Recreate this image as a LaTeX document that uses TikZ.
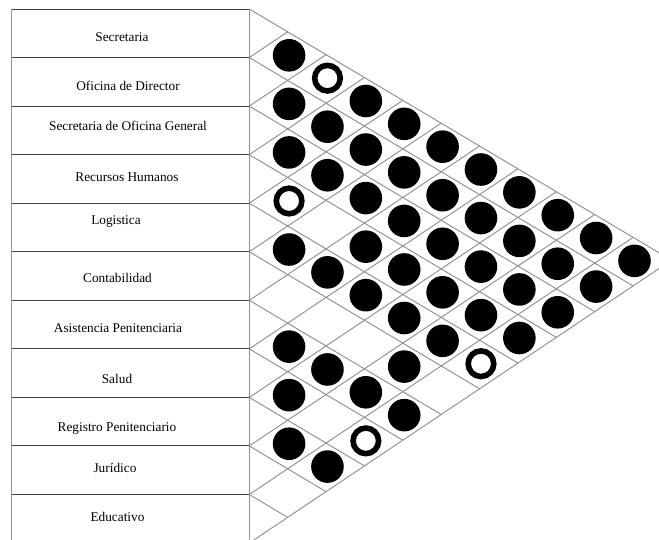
\documentclass[tikz,border=0pt]{standalone}
\usepackage{fontspec}
\setmainfont{Liberation Serif}
\definecolor{gridgray}{HTML}{8C8C8C}
\definecolor{tabline}{HTML}{404040}
\definecolor{tabvert}{HTML}{939393}
\begin{document}
\begin{tikzpicture}[x=1pt,y=-1pt,
  gridline/.style={draw=gridgray, line width=0.9pt},
  rowline/.style={draw=tabline, line width=1pt},
  colline/.style={draw=tabvert, line width=1pt},
  full/.style={circle, fill=black, minimum size=32.6pt, inner sep=0pt},
  ring/.style={circle, draw=black, line width=5.6pt, minimum size=25.6pt, inner sep=0pt},
  lbl/.style={anchor=base, font=\fontsize{13.3}{15}\selectfont, inner sep=0pt}]
\useasboundingbox (0,0) rectangle (659,539);
\clip (0,0) rectangle (659,539);
\def\xO{249.3}
\def\yT{9}
\def\h{48.55}
\def\p{0.4704}
\def\u{38.38}
% table
\foreach \k in {0,...,11}{
  \pgfmathsetmacro\yk{\yT+\h*\k}
  \draw[rowline] (11.3,\yk) -- (\xO,\yk);
}
\draw[colline] (11.3,\yT) -- (11.3,543.5);
\draw[colline] (\xO,\yT) -- (\xO,543.5);
% grid of the triangle
\foreach \k in {0,...,11}{
  \pgfmathsetmacro\yk{\yT+\h*\k}
  \pgfmathsetmacro\xd{\xO+(11-\k)*\u}
  \pgfmathsetmacro\yd{\yk+(11-\k)*\h*\p}
  \pgfmathsetmacro\xu{\xO+\k*\u}
  \pgfmathsetmacro\yu{\yk-\k*\h*(1-\p)}
  \draw[gridline] (\xO,\yk) -- (\xd,\yd);
  \draw[gridline] (\xO,\yk) -- (\xu,\yu);
}
% labels
\node[lbl] (r1) at (122,41.7) {Secretaria};
\node[lbl] (r2) at (128,90) {Oficina de Director};
\node[lbl] (r3) at (128,130) {Secretaria de Oficina General};
\node[lbl] (r4) at (127,181.7) {Recursos Humanos};
\node[lbl] (r5) at (116,224) {Logistica};
\node[lbl] (r6) at (117.5,282.7) {Contabilidad};
\node[lbl] (r7) at (118,332.7) {Asistencia Penitenciaria};
\node[lbl] (r8) at (117,383.3) {Salud};
\node[lbl] (r9) at (117,431) {Registro Penitenciario};
\node[lbl] (r10) at (115,472.3) {Jurídico};
\node[lbl] (r11) at (117.5,521.7) {Educativo};
% filled circles
\foreach \i/\j in {1/2,2/3,1/4,2/4,1/5,3/4,2/5,1/6,3/5,2/6,1/7,3/6,2/7,1/8,3/7,2/8,1/9,
  5/6,4/7,3/8,2/9,1/10,5/7,4/8,3/9,2/10,1/11,5/8,4/9,3/10,2/11,5/9,4/10,3/11,
  7/8,5/10,4/11,7/9,6/10,8/9,7/10,7/11,9/10,9/11}{
  \pgfmathsetmacro\cx{\xO+(\j-\i)*\u+1.4}
  \pgfmathsetmacro\cy{\yT+\h*(\i-0.5)+(\j-\i)*\h*\p-0.8}
  \node[full] (c\i-\j) at (\cx,\cy) {};
}
% open circles
\foreach \i/\j in {1/3,4/5,5/11,8/11}{
  \pgfmathsetmacro\cx{\xO+(\j-\i)*\u+1.4}
  \pgfmathsetmacro\cy{\yT+\h*(\i-0.5)+(\j-\i)*\h*\p-0.8}
  \node[ring] (c\i-\j) at (\cx,\cy) {};
}
\end{tikzpicture}
\end{document}
